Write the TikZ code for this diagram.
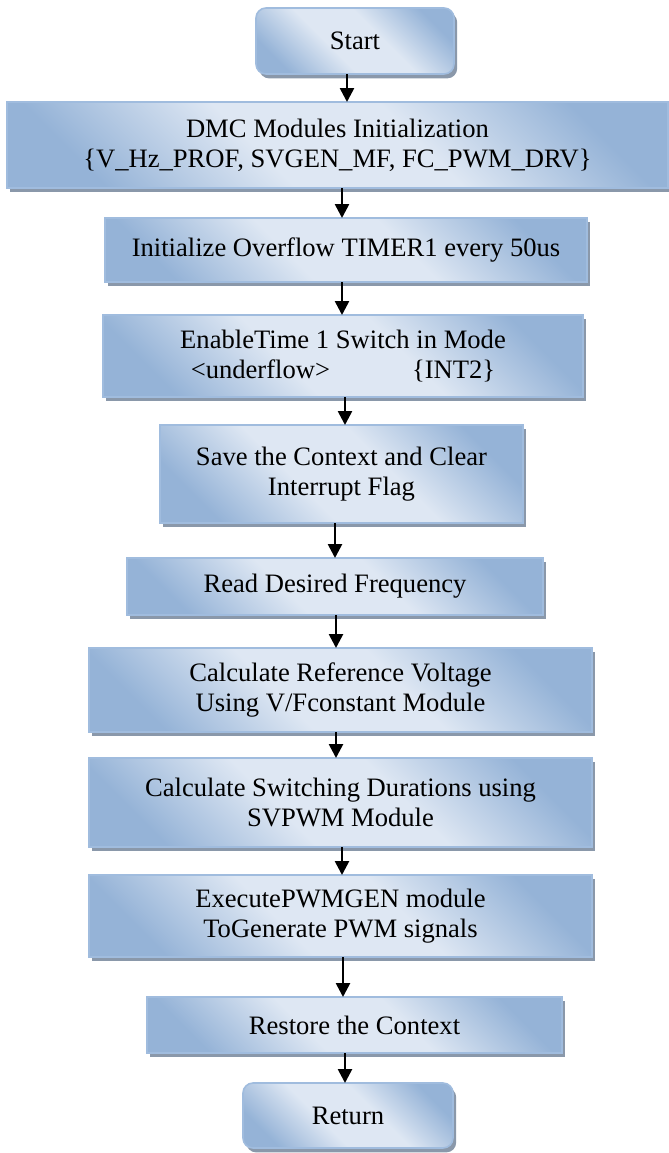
\documentclass[tikz,border=0pt]{standalone}
\usepackage{fontspec}
\setmainfont{Liberation Serif}
\usepackage{tikz}
\usetikzlibrary{positioning,arrows.meta,shadows}
\definecolor{boxdark}{RGB}{149,179,215}
\definecolor{boxlight}{RGB}{222,231,243}
\definecolor{boxedge}{RGB}{160,188,222}
\definecolor{shadowc}{RGB}{138,152,170}
\pgfdeclareverticalshading{boxshade}{100bp}{color(0bp)=(boxdark); color(24bp)=(boxdark);
    color(42bp)=(boxlight); color(58bp)=(boxlight); color(76bp)=(boxdark); color(100bp)=(boxdark)}
\tikzset{
    block/.style={rectangle, draw=boxedge, line width=0.8pt, outer sep=0pt,
        shade, shading=boxshade, shading angle=135,
        drop shadow={shadow xshift=1.6pt, shadow yshift=-2.2pt, fill=shadowc, opacity=1},
        align=center, inner sep=2pt, font=\fontsize{13.3pt}{15pt}\selectfont},
    term/.style={block, rounded corners=5pt},
    line/.style={-{Triangle[width=7pt,length=7pt]}, line width=1.3pt},
}
\begin{document}
\begin{tikzpicture}
    \useasboundingbox (0,0) rectangle (334.5pt,-576.5pt);

    \node[term, minimum width=99pt, minimum height=33pt] (start) at (177.5pt,-20.5pt) {Start};
    \node[block, below=14pt of start, xshift=-8.75pt, minimum width=330.5pt, minimum height=43pt] (dmc)
        {DMC Modules Initialization\\ \{V\_Hz\_PROF, SVGEN\_MF, FC\_PWM\_DRV\}};
    \node[block, below=15pt of dmc, xshift=4.25pt, minimum width=241pt, minimum height=32pt] (init)
        {Initialize Overflow TIMER1 every 50us};
    \node[block, below=16.5pt of init, xshift=-1.5pt, minimum width=240pt, minimum height=41pt] (enable)
        {EnableTime 1 Switch in Mode\\ <underflow>\hspace{41pt}\{INT2\}};
    \node[block, below=14pt of enable, xshift=-0.75pt, minimum width=181.5pt, minimum height=49pt] (save)
        {Save the Context and Clear\\ Interrupt Flag};
    \node[block, below=17.5pt of save, xshift=-3.25pt, minimum width=208pt, minimum height=28.5pt] (read)
        {Read Desired Frequency};
    \node[block, below=16.5pt of read, xshift=2.75pt, minimum width=251.5pt, minimum height=42pt] (vref)
        {Calculate Reference Voltage\\ Using V/Fconstant Module};
    \node[block, below=13pt of vref, minimum width=251.5pt, minimum height=44.5pt] (svpwm)
        {Calculate Switching Durations using\\ SVPWM Module};
    \node[block, below=14pt of svpwm, minimum width=251.5pt, minimum height=41pt] (pwmgen)
        {ExecutePWMGEN module\\ ToGenerate PWM signals};
    \node[block, below=20pt of pwmgen, xshift=7pt, minimum width=207.5pt, minimum height=28pt] (restore)
        {Restore the Context};
    \node[term, below=15pt of restore, xshift=-3.25pt, minimum width=105pt, minimum height=32.5pt] (ret)
        {Return};

    % arrows, each a little off the box centre as in the original
    \foreach \a/\b/\dx in {start/dmc/-4pt, dmc/init/2.25pt, init/enable/-2pt, enable/save/1pt,
        save/read/-3.25pt, read/vref/0.5pt, vref/svpwm/-2.25pt, svpwm/pwmgen/0.75pt,
        pwmgen/restore/1.25pt, restore/ret/-4.75pt}
        \draw[line] (\a.south) ++(\dx,0) coordinate (t) -- (t |- \b.north);

\end{tikzpicture}
\end{document}
